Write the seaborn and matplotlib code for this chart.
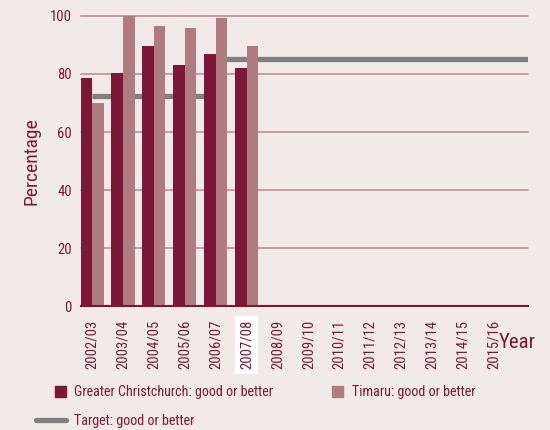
import matplotlib
matplotlib.use("Agg")
import matplotlib.pyplot as plt
import seaborn as sns
import pandas as pd
import numpy as np
from matplotlib.patches import Rectangle
from matplotlib.lines import Line2D
from matplotlib import font_manager as fm

years = ["2002/03", "2003/04", "2004/05", "2005/06", "2006/07", "2007/08",
         "2008/09", "2009/10", "2010/11", "2011/12", "2012/13", "2013/14",
         "2014/15", "2015/16"]
christchurch = [78.5, 80.3, 89.7, 83.2, 86.9, 82.1]
timaru = [70.0, 100.0, 96.4, 95.9, 99.3, 89.7]
target_levels = [72.5, 85.0]
target_start = ["2002/03", "2006/07"]
target_end = ["2006/07", None]  # None = to the right edge

series_names = ["Greater Christchurch: good or better", "Timaru: good or better"]
target_name = "Target: good or better"

BG = "#F2EAE9"
MAROON = "#7B1838"
PINK = "#B07A82"
GREY = "#808080"
GRID = "#C8929C"

sns.set_theme(style="white")
names = {f.name for f in fm.fontManager.ttflist}
fams = [n for n in ["Liberation Sans Narrow", "Roboto Condensed", "Open Sans Condensed",
                    "DejaVu Sans"] if n in names]
plt.rcParams["font.family"] = fams + ["DejaVu Sans"]
plt.rcParams["font.stretch"] = "condensed"

rows = []
for name, vals in zip(series_names, [christchurch, timaru]):
    for y, v in zip(years, vals):
        rows.append({"Year": y, "Series": name, "Value": v})
df = pd.DataFrame(rows)

fig = plt.figure(figsize=(5.5, 4.3), dpi=100, facecolor=BG)
ax = fig.add_axes([0.147, 0.288, 0.813, 0.675], facecolor=BG)

sns.barplot(data=df, x="Year", y="Value", hue="Series", order=years,
            hue_order=series_names, palette=[MAROON, PINK], width=0.75,
            saturation=1, linewidth=0, ax=ax, legend=False, zorder=2)

xmin, xmax = -0.36, 14.1
ax.set_xlim(xmin, xmax)
ax.set_ylim(0, 100)

for lvl, s, e in zip(target_levels, target_start, target_end):
    x0 = years.index(s)
    x1 = xmax if e is None else years.index(e)
    ax.hlines(lvl, x0, x1, color=GREY, lw=3.8, zorder=1.5)

ax.set_yticks([0, 20, 40, 60, 80, 100])
ax.yaxis.grid(True, color=GRID, lw=1.3, zorder=0.5)
ax.set_axisbelow(True)
for g in ax.get_ygridlines():
    g.set_clip_on(False)
for sp in ["left", "right", "top"]:
    ax.spines[sp].set_visible(False)
ax.spines["bottom"].set_color(MAROON)
ax.spines["bottom"].set_linewidth(1.5)
ax.spines["bottom"].set_zorder(3)

ax.tick_params(axis="y", length=0, pad=6.5, labelsize=10.5, labelcolor=MAROON)
ax.tick_params(axis="x", length=0, pad=10, labelsize=10.5, labelcolor=MAROON)
ax.set_xticks(range(len(years)))
ax.set_xticklabels(years, rotation=90, va="top", ha="center")
for lab in ax.get_xticklabels():
    if lab.get_text() == "2007/08":
        lab.set_bbox(dict(facecolor="white", edgecolor="none", pad=3))

ax.set_xlabel("")
ax.set_ylabel("Percentage", fontsize=14, color=MAROON, labelpad=7)
fig.text(499 / 550, 1 - 343 / 430, "Year", fontsize=15, color=MAROON,
         ha="left", va="center")

# legend
fig.patches.append(Rectangle((55 / 550, 1 - 397 / 430), 11 / 550, 11 / 430,
                             transform=fig.transFigure, color=MAROON))
fig.text(74 / 550, 1 - 392 / 430, series_names[0], fontsize=10.2,
         color=MAROON, va="center")
fig.patches.append(Rectangle((332 / 550, 1 - 397 / 430), 11 / 550, 11 / 430,
                             transform=fig.transFigure, color=PINK))
fig.text(352 / 550, 1 - 392 / 430, series_names[1], fontsize=10.2,
         color=MAROON, va="center")
fig.lines.append(Line2D([36 / 550, 66 / 550], [1 - 420 / 430, 1 - 420 / 430],
                        transform=fig.transFigure, color=GREY, lw=3.8))
fig.text(74 / 550, 1 - 421 / 430, target_name, fontsize=10.2,
         color=MAROON, va="center")

fig.savefig("out.png", dpi=100, facecolor=BG)
